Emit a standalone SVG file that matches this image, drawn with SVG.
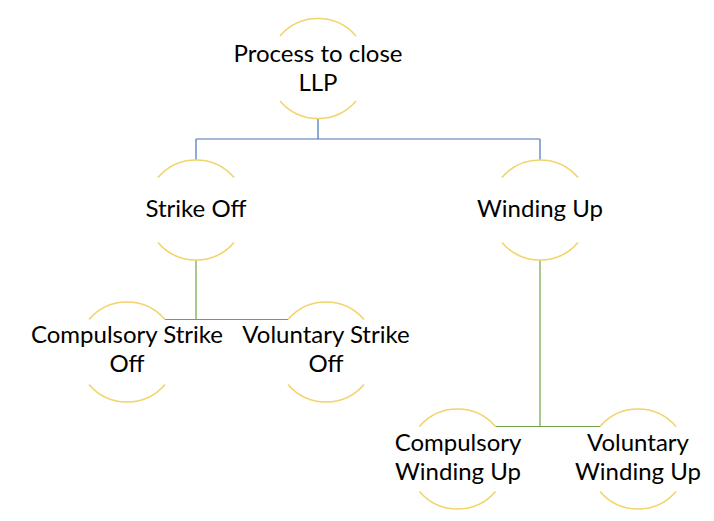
<svg xmlns="http://www.w3.org/2000/svg" xmlns:xlink="http://www.w3.org/1999/xlink" width="714" height="521" viewBox="0 0 714 521">
<style>
.arc{fill:none;stroke:#F2D46B;stroke-width:1.6}
.t{font-family:Lato,"Open Sans","Liberation Sans",sans-serif;font-size:24px;fill:#000;text-anchor:middle}
.blue{fill:none;stroke:#4A73B8;stroke-width:1.2}
.green{fill:none;stroke:#6FA546;stroke-width:1.2}
</style>
<defs>
<path id="arcs" class="arc" d="M-38,-32.5 A50,50 0 0 1 38,-32.5 M38,32.5 A50,50 0 0 1 -38,32.5"/>
</defs>
<rect width="714" height="521" fill="#fff"/>
<g id="connectors">
<path class="blue" d="M318,119 V139 M196,139 H540 M196,139 V160 M540,139 V160"/>
<path class="green" d="M196,260 V319.5 M165,319.5 H288"/>
<path class="green" d="M540,260 V426.5 M495.5,426.5 H600"/>
</g>
<g id="root">
<use xlink:href="#arcs" x="318" y="68.5"/>
<text class="t" x="318" y="62">Process to close</text>
<text class="t" x="318" y="91">LLP</text>
</g>
<g id="strike-off">
<use xlink:href="#arcs" x="196" y="210"/>
<text class="t" x="196" y="217">Strike Off</text>
</g>
<g id="winding-up">
<use xlink:href="#arcs" x="540" y="210"/>
<text class="t" x="540" y="217">Winding Up</text>
</g>
<g id="compulsory-strike-off">
<use xlink:href="#arcs" x="127" y="352"/>
<text class="t" x="127" y="343">Compulsory Strike</text>
<text class="t" x="127" y="372">Off</text>
</g>
<g id="voluntary-strike-off">
<use xlink:href="#arcs" x="326" y="352"/>
<text class="t" x="326" y="343">Voluntary Strike</text>
<text class="t" x="326" y="372">Off</text>
</g>
<g id="compulsory-winding-up">
<use xlink:href="#arcs" x="457.5" y="459"/>
<text class="t" x="458" y="451">Compulsory</text>
<text class="t" x="458" y="480">Winding Up</text>
</g>
<g id="voluntary-winding-up">
<use xlink:href="#arcs" x="638" y="459"/>
<text class="t" x="638" y="451">Voluntary</text>
<text class="t" x="638" y="480">Winding Up</text>
</g>
</svg>
